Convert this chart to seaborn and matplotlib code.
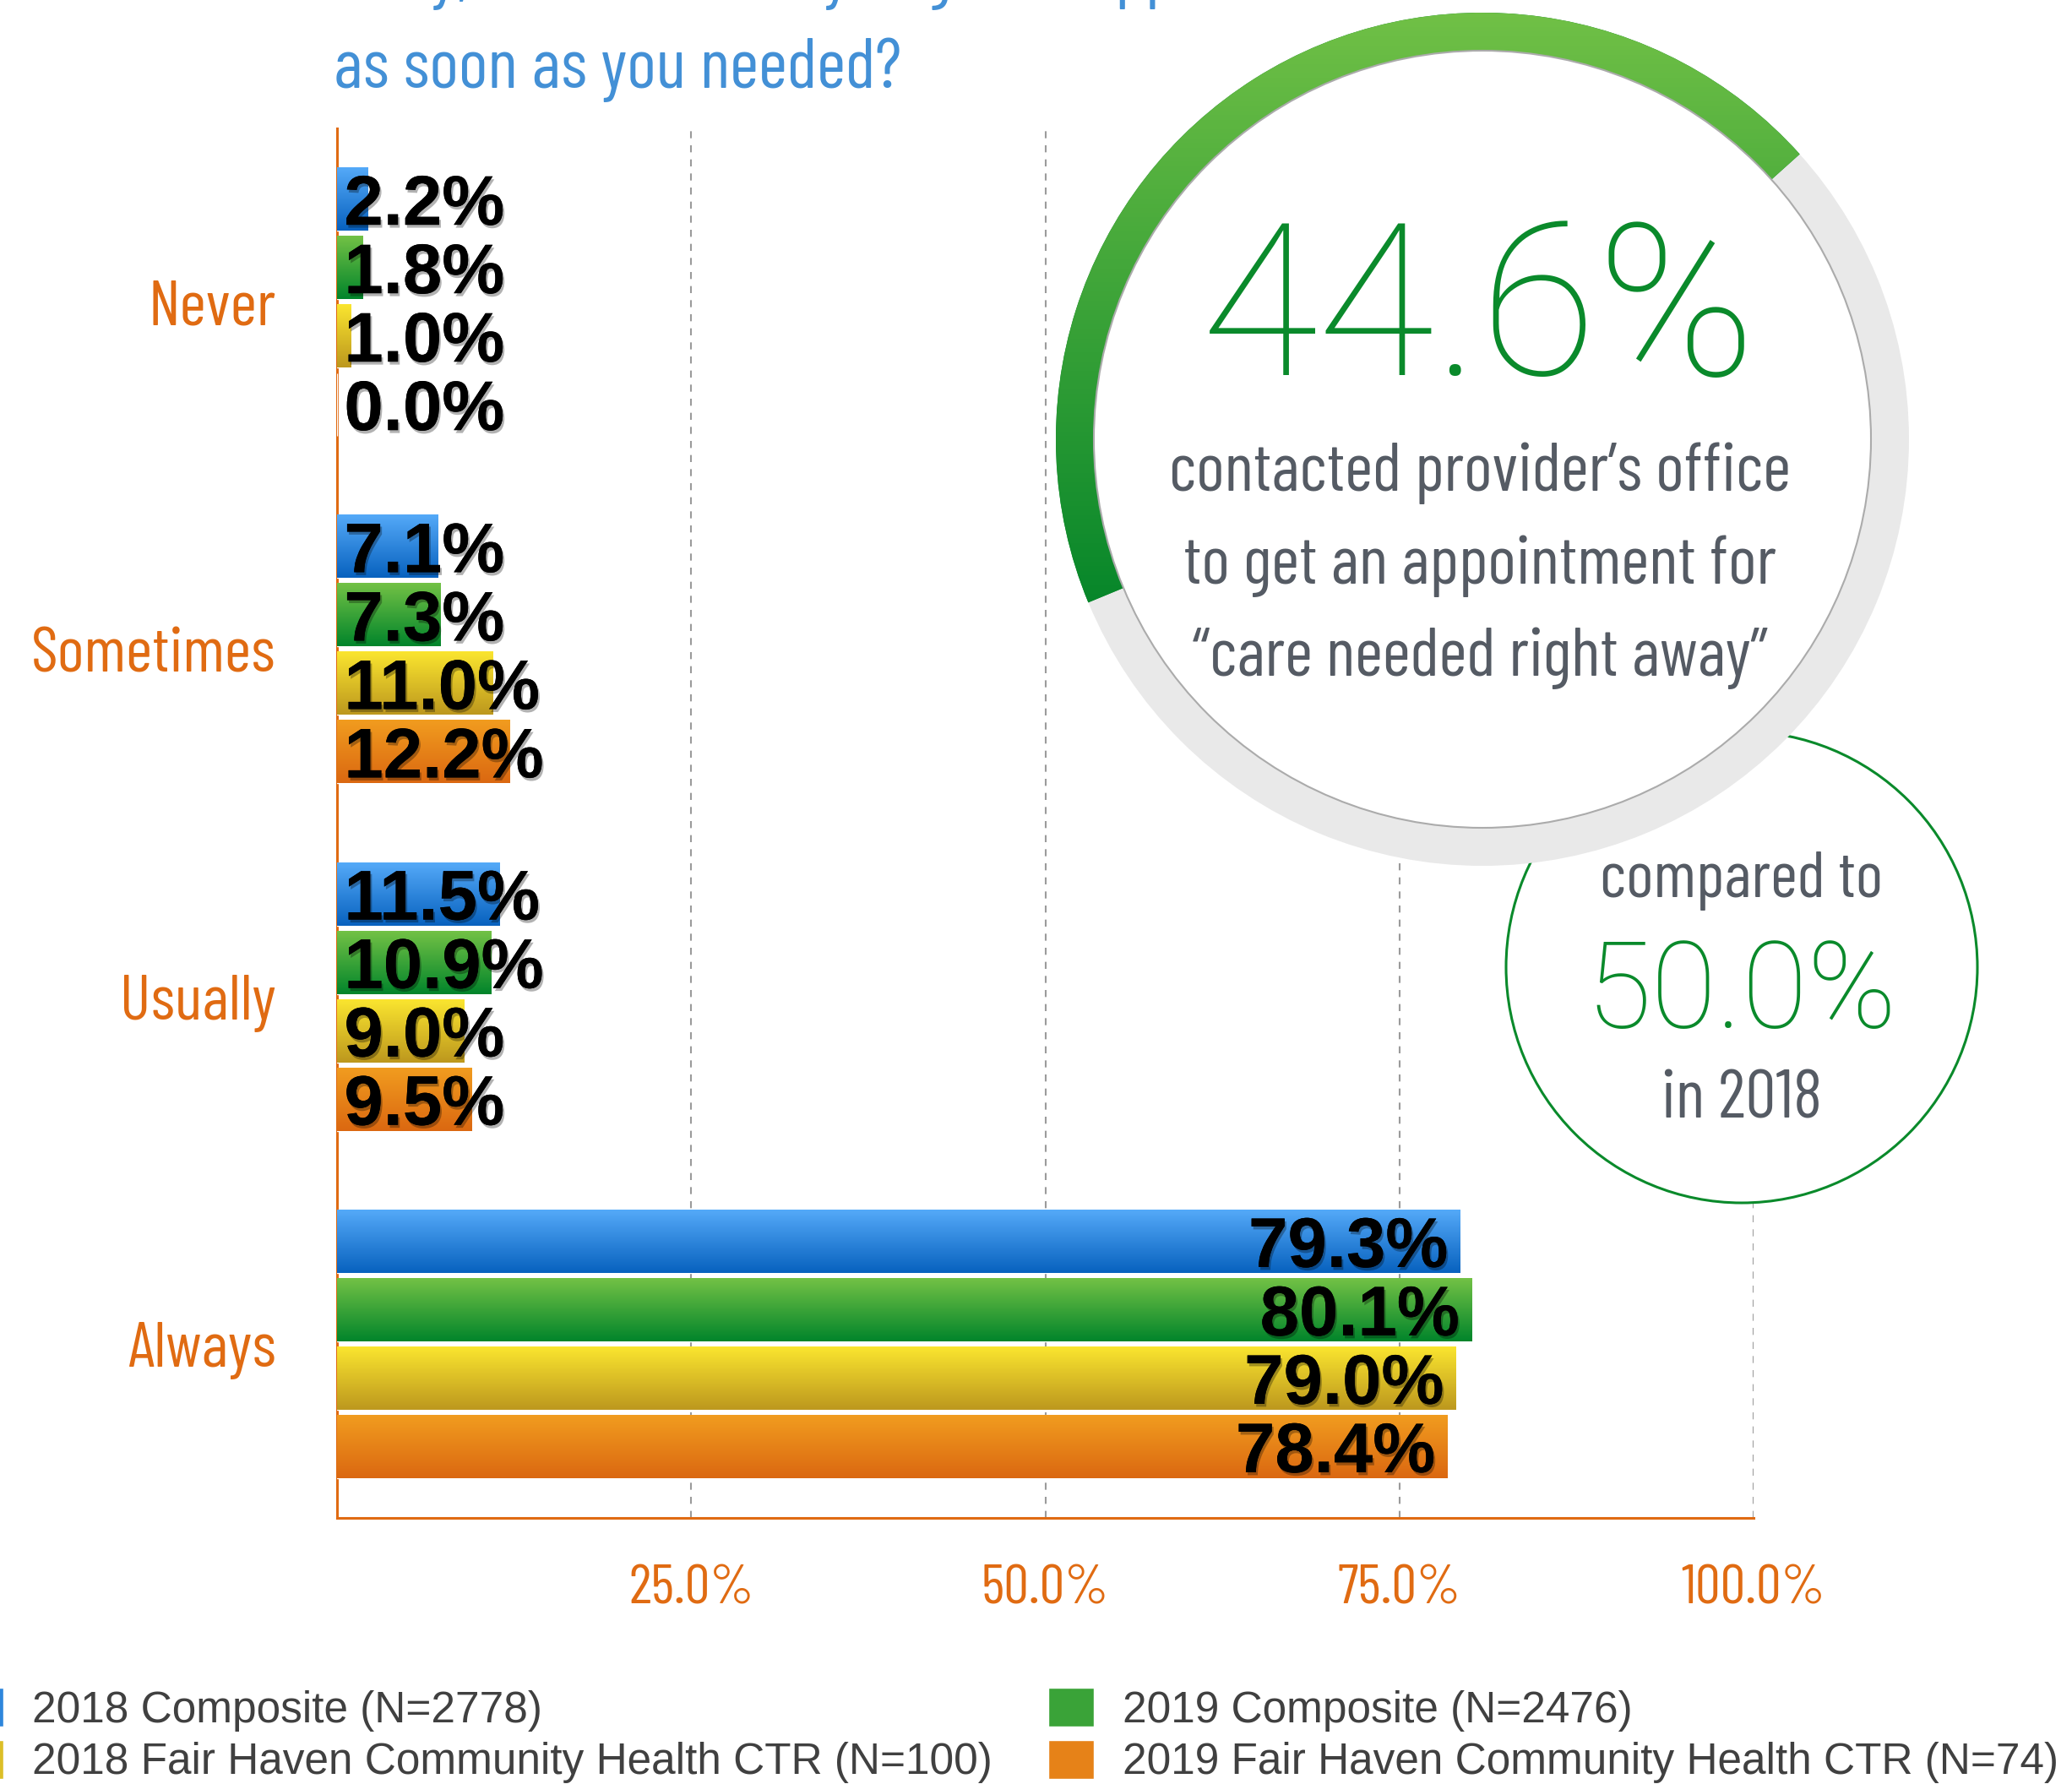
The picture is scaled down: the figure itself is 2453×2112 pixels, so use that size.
import numpy as np
import pandas as pd
import matplotlib
matplotlib.use("Agg")
import matplotlib.pyplot as plt
import seaborn as sns
from matplotlib import font_manager, patheffects
from matplotlib.patches import Wedge, Circle, Patch
from matplotlib.colors import LinearSegmentedColormap

# ---------------- data ----------------
categories = ["Never", "Sometimes", "Usually", "Always"]
series = ["2018 Composite (N=2778)", "2019 Composite (N=2476)",
          "2018 Fair Haven Community Health CTR (N=100)",
          "2019 Fair Haven Community Health CTR (N=74)"]
v2018_comp = [2.2, 7.1, 11.5, 79.3]
v2019_comp = [1.8, 7.3, 10.9, 80.1]
v2018_fh = [1.0, 11.0, 9.0, 79.0]
v2019_fh = [0.0, 12.2, 9.5, 78.4]
x_ticks = [25, 50, 75, 100]
x_tick_labels = ["25.0%", "50.0%", "75.0%", "100.0%"]
highlight_value = 44.6
compare_value = 50.0
highlight_lines = ["contacted provider\u2019s office", "to get an appointment for",
                   "\u201ccare needed right away\u201d"]
compare_lines = ["compared to", "in 2018"]
title_lines = ["away, how often did you get an appointment", "as soon as you needed?"]

# ---------------- styling ----------------
W, H = 2453, 2112
grad_colors = [("#54A9F8", "#0862BF"), ("#72C145", "#02852B"),
               ("#FAE52F", "#BD981E"), ("#F19C1F", "#DB6811")]
mid_colors = ["#2E86DC", "#3AA338", "#DCBF27", "#E68218"]
orange = "#E06B12"
blue_title = "#4390D6"
dark_green = "#0A8A2B"
gray_text = "#555B64"

sns.set_theme(style="white")
names = {f.name for f in font_manager.fontManager.ttflist}
narrow_candidates = ["Barlow Condensed", "Roboto Condensed", "Archivo Narrow",
                     "Liberation Sans Narrow", "DejaVu Sans"]
narrow = next(n for n in narrow_candidates if n in names)
light = "Roboto" if "Roboto" in names else "DejaVu Sans"
plt.rcParams["font.family"] = ["Liberation Sans", "DejaVu Sans"]
NF = [narrow, "DejaVu Sans"]

df = pd.DataFrame({
    "category": categories * 4,
    "series": sum([[s] * 4 for s in series], []),
    "value": v2018_comp + v2019_comp + v2018_fh + v2019_fh,
})

fig = plt.figure(figsize=(W / 100, H / 100), dpi=100)
ax = fig.add_axes([399 / W, 1 - 1797 / H, (2076 - 399) / W, (1797 - 152) / H])

sns.barplot(data=df, x="value", y="category", hue="series", hue_order=series,
            order=categories, orient="h", palette=mid_colors, width=0.788,
            saturation=1, errorbar=None, legend=False, ax=ax, zorder=3)

bar_h = 0.18
for container, (c_top, c_bot), vals in zip(ax.containers, grad_colors,
                                           [v2018_comp, v2019_comp, v2018_fh, v2019_fh]):
    cmap = LinearSegmentedColormap.from_list("g", [c_top, c_bot])
    for bar, v in zip(container, vals):
        y, h = bar.get_y(), bar.get_height()
        bar.set_y(y + (h - bar_h) / 2)
        bar.set_height(bar_h)
        y0 = bar.get_y()
        w = bar.get_width()
        if w > 0:
            ax.imshow(np.linspace(0, 1, 64).reshape(-1, 1), cmap=cmap, aspect="auto",
                      origin="upper", extent=(0, w, y0 + bar_h, y0), zorder=3.5)
        yc = y0 + bar_h / 2
        txt = f"{v:.1f}%"
        if v < 20:
            t = ax.text(0.5, yc + 0.073, txt, ha="left", va="baseline")
        else:
            t = ax.text(v - 0.85, yc + 0.073, txt, ha="right", va="baseline")
        t.set_fontsize(60)
        t.set_fontweight("bold")
        t.set_color("black")
        t.set_zorder(6)
        t.set_path_effects([patheffects.withSimplePatchShadow(offset=(1.5, -2.5),
                                                              shadow_rgbFace="black", alpha=0.3),
                            patheffects.Normal()])

ax.set_xlim(0, 100)
ax.set_ylim(3.5, -0.5)
ax.set_xticks(x_ticks)
ax.set_xticklabels(x_tick_labels)
ax.xaxis.grid(True, linestyle=(0, (4, 4)), color="#9b9b9b", lw=1.5)
ax.yaxis.grid(False)
ax.set_axisbelow(True)
ax.set_xlabel("")
ax.set_ylabel("")
for s in ["top", "right"]:
    ax.spines[s].set_visible(False)
for s in ["left", "bottom"]:
    ax.spines[s].set_color(orange)
    ax.spines[s].set_linewidth(2.2)
ax.tick_params(axis="x", length=0, pad=40, labelsize=48, labelcolor=orange)
ax.tick_params(axis="y", length=0, pad=52, labelsize=55, labelcolor=orange)
for lab in ax.get_xticklabels() + ax.get_yticklabels():
    lab.set_family(NF)

# ---------------- overlay (callouts, title) ----------------
ov = fig.add_axes([0, 0, 1, 1], zorder=5)
ov.set_xlim(0, W)
ov.set_ylim(H, 0)
ov.axis("off")
ov.patch.set_alpha(0)

ov.add_patch(Circle((2062, 1145), 279, facecolor="white", edgecolor=dark_green, lw=2.2, zorder=1))
cx, cy, r_out, ring_w = 1755, 520, 505, 45
ov.add_patch(Wedge((cx, cy), r_out, 0, 360, width=ring_w, facecolor="#E9E9E9",
                   edgecolor="none", zorder=2))
end_vis = 202.5
start_vis = end_vis - 360 * highlight_value / 100
arc = Wedge((cx, cy), r_out, 360 - end_vis, 360 - start_vis, width=ring_w,
            facecolor=dark_green, edgecolor="none", zorder=3)
ov.add_patch(arc)
gcmap = LinearSegmentedColormap.from_list("gg", ["#70C046", "#06862A"])
im = ov.imshow(np.linspace(0, 1, 128).reshape(-1, 1), cmap=gcmap, aspect="auto",
               origin="upper", extent=(cx - r_out, cx + r_out, 720, cy - r_out), zorder=3.5)
im.set_clip_path(arc)
ov.add_patch(Circle((cx, cy), r_out - ring_w, facecolor="white", edgecolor="#ABABAB",
                    lw=1.5, zorder=4))
ov.set_xlim(0, W)
ov.set_ylim(H, 0)

ov.text(1751, 444, f"{highlight_value:.1f}%", ha="center", va="baseline", fontsize=182,
        color=dark_green, family=light, fontweight="light", zorder=6)
for line, yb in zip(highlight_lines, [581, 691, 800]):
    ov.text(1752, yb, line, ha="center", va="baseline", fontsize=58, color=gray_text,
            family=NF, zorder=6)
ov.text(2062, 1062, compare_lines[0], ha="center", va="baseline", fontsize=56,
        color=gray_text, family=NF, zorder=6)
ov.text(2062, 1217, f"{compare_value:.1f}%", ha="center", va="baseline", fontsize=102,
        color=dark_green, family=light, fontweight="light", zorder=6)
ov.text(2062, 1324, compare_lines[1], ha="center", va="baseline", fontsize=58,
        color=gray_text, family=NF, zorder=6)

ov.text(395, -5, title_lines[0], ha="left", va="baseline", fontsize=60, color=blue_title,
        family=NF, clip_on=False)
ov.text(395, 104, title_lines[1], ha="left", va="baseline", fontsize=60, color=blue_title,
        family=NF, clip_on=False)

# ---------------- legend ----------------
handles = [Patch(facecolor=c) for c in mid_colors]
leg_kw = dict(loc="upper left", frameon=False, borderpad=0, borderaxespad=0,
              handlelength=55 / 52, handleheight=52 / 52, handletextpad=34 / 52,
              labelspacing=0.2, fontsize=37, labelcolor="#404040")
fig.legend([handles[0], handles[2]], [series[0], series[2]],
           bbox_to_anchor=(-50 / W, 1 - 1998 / H), **leg_kw)
fig.legend([handles[1], handles[3]], [series[1], series[3]],
           bbox_to_anchor=(1241 / W, 1 - 1998 / H), **leg_kw)

fig.savefig("out.png", dpi=100)
